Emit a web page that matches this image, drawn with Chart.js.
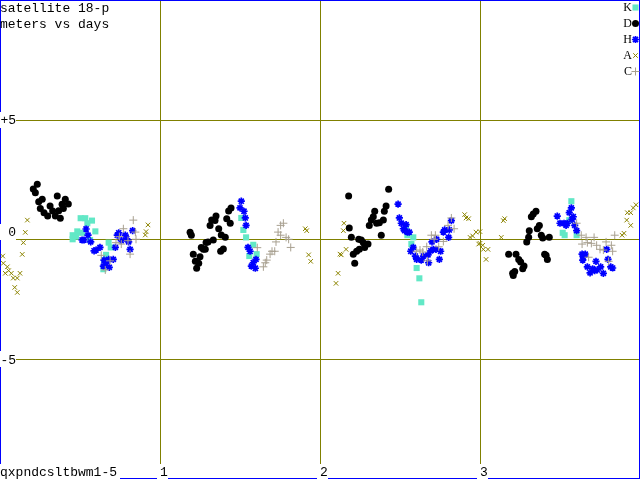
<!DOCTYPE html>
<html>
<head>
<meta charset="utf-8">
<script src="https://cdn.jsdelivr.net/npm/chart.js@4.4.1/dist/chart.umd.min.js"></script>
<style>
  html, body { margin: 0; padding: 0; background: #fff; }
  canvas { display: block; }
</style>
</head>
<body>
<canvas id="chart" width="640" height="480"></canvas>
<script>
// satellite 18-p : meters vs days

const TITLE_LINES  = ['satellite 18-p', 'meters vs days'];
const X_LABEL      = 'qxpndcsltbwm1-5';
const X_TICKS      = [1, 2, 3];
const Y_TICKS      = [5, 0, -5];
const Y_TICK_TEXT  = ['+5', '0', '-5'];

// K — squares
const kDays   = [0.504, 0.533, 0.575, 0.546, 0.483, 0.513, 0.596, 0.454, 0.454, 0.475, 0.563, 0.679, 0.692, 0.663, 0.650, 0.646,
                 1.508, 1.521, 1.538, 1.583, 1.604, 1.558,
                 2.538, 2.546, 2.583, 2.571, 2.604, 2.621, 2.633,
                 3.571, 3.558, 3.517, 3.529, 3.604];
const kMeters = [0.89, 0.89, 0.79, 0.68, 0.34, 0.28, 0.34, 0.18, 0.01, 0.12, -0.02, -0.13, -0.33, -0.64, -0.86, -1.24,
                 0.90, 0.40, 0.09, -0.22, -0.61, -0.69,
                 0.48, 0.18, 0.09, -0.19, -1.19, -1.62, -2.62,
                 1.60, 0.81, 0.28, 0.18, 0.18];

// D — dots
const dDays   = [0.233, 0.208, 0.221, 0.264, 0.242, 0.358, 0.408, 0.427, 0.388, 0.313, 0.252, 0.396, 0.329, 0.367, 0.275, 0.298, 0.346, 0.377,
                 1.444, 1.429, 1.350, 1.323, 1.344, 1.313, 1.417, 1.439, 1.367, 1.188, 1.196, 1.383, 1.408, 1.333, 1.300, 1.288, 1.258, 1.271, 1.283, 1.208, 1.396, 1.379, 1.250, 1.221, 1.242, 1.229,
                 2.429, 2.179, 2.413, 2.342, 2.402, 2.333, 2.321, 2.396, 2.354, 2.371, 2.308, 2.183, 2.383, 2.196, 2.242, 2.258, 2.271, 2.300, 2.283, 2.279, 2.246, 2.229, 2.208, 2.217,
                 3.350, 3.333, 3.321, 3.371, 3.358, 3.308, 3.383, 3.392, 3.433, 3.304, 3.292, 3.179, 3.225, 3.404, 3.413, 3.421, 3.242, 3.254, 3.275, 3.267, 3.217, 3.204, 3.208];
const dMeters = [2.31, 2.11, 1.95, 1.68, 1.58, 1.82, 1.68, 1.48, 1.47, 1.40, 1.30, 1.30, 1.19, 1.20, 1.12, 0.98, 0.98, 0.89,
                 1.32, 1.19, 0.98, 0.81, 0.79, 0.59, 0.87, 0.68, 0.45, 0.30, 0.18, 0.19, 0.09, -0.02, -0.10, -0.12, -0.33, -0.41, -0.41, -0.62, -0.40, -0.49, -0.72, -0.91, -0.99, -1.20,
                 2.10, 1.82, 1.40, 1.18, 1.18, 0.95, 0.81, 0.81, 0.68, 0.70, 0.59, 0.48, 0.18, 0.09, 0.01, -0.02, -0.13, -0.19, -0.22, -0.33, -0.41, -0.49, -0.61, -0.99,
                 1.18, 1.07, 0.95, 0.59, 0.45, 0.37, 0.18, 0.06, 0.09, 0.09, -0.10, -0.61, -0.61, -0.61, -0.66, -0.83, -0.83, -0.94, -1.11, -1.22, -1.33, -1.41, -1.50];

// H — asterisks
const hDays   = [0.538, 0.550, 0.513, 0.525, 0.567, 0.625, 0.600, 0.588, 0.650, 0.679, 0.708, 0.663, 0.646, 0.683, 0.742, 0.733, 0.783, 0.829, 0.792, 0.758, 0.721, 0.813, 0.804,
                 1.508, 1.500, 1.525, 1.533, 1.538, 1.550, 1.563, 1.600, 1.583, 1.571, 1.596,
                 2.488, 2.496, 2.508, 2.538, 2.521, 2.529, 2.546, 2.558, 2.583, 2.567, 2.596, 2.604, 2.633, 2.646, 2.675, 2.679, 2.692, 2.708, 2.725, 2.754, 2.746, 2.700, 2.729, 2.771, 2.779, 2.808, 2.821, 2.804,
                 3.571, 3.558, 3.483, 3.583, 3.575, 3.500, 3.525, 3.546, 3.592, 3.604, 3.538, 3.792, 3.638, 3.658, 3.646, 3.642, 3.725, 3.800, 3.671, 3.704, 3.754, 3.733, 3.817, 3.688, 3.717, 3.771, 3.829];
const hMeters = [0.44, 0.18, -0.02, -0.02, -0.10, -0.33, -0.44, -0.47, -0.86, -0.83, -0.83, -0.99, -1.11, -1.16, 0.28, 0.18, 0.18, 0.37, 0.03, -0.05, -0.33, -0.41, -0.10,
                 1.60, 1.32, 1.18, 0.90, 0.59, -0.33, -0.49, -0.83, -0.97, -1.11, -1.20,
                 1.48, 0.90, 0.68, 0.62, 0.45, 0.37, 0.31, 0.31, -0.33, -0.49, -0.69, -0.83, -0.86, -0.69, -0.64, -0.97, -0.47, -0.41, -0.41, -0.49, -0.83, -0.10, 0.01, 0.31, 0.40, 0.40, 0.79, 0.09,
                 1.32, 1.12, 0.98, 0.95, 0.84, 0.68, 0.68, 0.68, 0.59, 0.37, 0.59, -0.41, -0.61, -0.61, -0.74, -0.86, -0.91, -0.83, -1.14, -1.22, -1.14, -1.27, -1.14, -1.39, -1.30, -1.41, -1.19];

// A — crosses
const aDays   = [0.171, 0.158, 0.146, 0.139, 0.017, 0.021, 0.046, 0.054, 0.033, 0.071, 0.083, 0.108, 0.125, 0.092, 0.108, 0.925, 0.913, 0.908,
                 1.908, 1.917, 1.929, 1.942,
                 2.150, 2.146, 2.163, 2.125, 2.133, 2.113, 2.100, 2.904, 2.913, 2.929, 2.975, 2.954, 2.938, 2.992,
                 3.000, 3.154, 3.146, 3.133, 3.000, 3.017, 3.021, 3.050, 3.038, 3.975, 3.958, 3.942, 3.921, 3.917, 3.942, 3.900, 3.888];
const aMeters = [0.81, 0.30, -0.13, -0.62, -0.69, -0.99, -1.14, -1.30, -1.41, -1.41, -1.61, -1.61, -1.41, -2.00, -2.21, 0.61, 0.33, 0.19,
                 0.45, 0.37, -0.64, -0.91,
                 0.68, 0.37, -0.41, -0.61, -0.64, -1.41, -1.83, 1.04, 0.90, 0.87, 0.31, 0.15, 0.09, -0.19,
                 0.33, 0.87, 0.79, 0.09, -0.16, -0.24, -0.41, -0.41, -0.83, 1.45, 1.32, 1.12, 1.12, 0.81, 0.59, 0.26, 0.18];

// C — plus signs
const cDays   = [0.833, 0.771, 0.846, 0.746, 0.758, 0.800, 0.850, 0.813, 0.725, 0.688, 0.633, 0.658,
                 1.771, 1.754, 1.738, 1.754, 1.788, 1.804, 1.725, 1.817, 1.717, 1.700, 1.688, 1.667, 1.658, 1.646, 1.608,
                 2.696, 2.721, 2.713, 2.771, 2.800, 2.821, 2.838, 2.742, 2.625, 2.642, 2.667, 2.671, 2.604,
                 3.604, 3.633, 3.663, 3.713, 3.842, 3.638, 3.671, 3.696, 3.729, 3.788, 3.821, 3.750, 3.829, 3.771, 3.679, 3.804];
const cMeters = [0.81, 0.45, 0.31, 0.12, -0.19, -0.05, 0.01, -0.61, -0.13, -0.89, -0.66, -1.27,
                 0.68, 0.59, 0.31, 0.18, 0.09, 0.01, -0.10, -0.33, -0.49, -0.49, -0.61, -0.86, -0.97, -1.14, -0.34,
                 0.18, 0.18, 0.01, -0.08, 0.59, 0.90, 0.45, -0.30, -0.44, -0.52, -0.30, -0.89, -0.49,
                 0.68, 0.18, 0.09, 0.09, 0.18, -0.19, -0.13, -0.16, -0.24, -0.10, -0.24, -0.41, -0.49, -0.44, -0.74, -0.91];

const SERIES = [
  { name: 'K', days: kDays, meters: kMeters, style: 'rect',     color: '#62e8c6', radius: 4.3, border: 0   },
  { name: 'D', days: dDays, meters: dMeters, style: 'circle',   color: '#000000', radius: 3.5, border: 0   },
  { name: 'H', days: hDays, meters: hMeters, style: 'star',     color: '#0000ff', radius: 3.6, border: 1.7 },
  { name: 'A', days: aDays, meters: aMeters, style: 'crossRot', color: '#8c8400', radius: 3.2, border: 1   },
  { name: 'C', days: cDays, meters: cMeters, style: 'cross',    color: '#a8a090', radius: 4,   border: 1   },
];

const OLIVE = '#808000';
const BLUE  = '#0000ff';
const MONO  = '13px "Liberation Mono", "Courier New", monospace';
const SERIF = '12px "Liberation Serif", "Times New Roman", serif';

const zip = (xs, ys) => xs.map((x, i) => ({ x, y: ys[i] }));

// ── Frame, grid, labels, legend ────────────────────────────────

function markAt(ctx, s, x, y) {
  ctx.save();
  ctx.fillStyle = s.color;
  ctx.strokeStyle = s.color;
  ctx.lineWidth = s.border || 1;
  Chart.helpers.drawPoint(ctx, { pointStyle: s.style, radius: s.radius, borderWidth: s.border, rotation: 0 }, x, y);
  ctx.restore();
}

const framePlugin = {
  id: 'frame',
  beforeDatasetsDraw(chart) {
    const { ctx, scales: { x, y } } = chart;
    ctx.save();
    ctx.fillStyle = OLIVE;
    X_TICKS.forEach(v => ctx.fillRect(Math.round(x.getPixelForValue(v)), 0, 1, 464));
    Y_TICKS.forEach(v => ctx.fillRect(0, Math.round(y.getPixelForValue(v) - 0.25), 640, 1));
    ctx.strokeStyle = BLUE;
    ctx.lineWidth = 1;
    ctx.strokeRect(0.5, 0.5, 639, 478);
    ctx.restore();
  },
  afterDatasetsDraw(chart) {
    const { ctx, scales: { x, y } } = chart;
    ctx.save();
    ctx.font = MONO;
    ctx.textBaseline = 'alphabetic';

    // y tick labels
    const yBase = [124, 236, 364];
    Y_TICKS.forEach((v, i) => {
      const p = Math.round(y.getPixelForValue(v) - 0.25);
      ctx.fillStyle = '#fff';
      ctx.fillRect(0, p - 15 + (v === 0 ? 0 : 7), 16, 16);
      ctx.fillStyle = '#000';
      ctx.textAlign = 'right';
      ctx.fillText(Y_TICK_TEXT[i], 16, yBase[i]);
    });

    // x tick labels
    X_TICKS.forEach(v => {
      const p = Math.round(x.getPixelForValue(v));
      ctx.fillStyle = '#fff';
      ctx.fillRect(p - 3, 464, 11, 16);
      ctx.fillStyle = '#000';
      ctx.textAlign = 'left';
      ctx.fillText(String(v), p, 476);
    });

    // axis name, bottom left
    ctx.fillStyle = '#fff';
    ctx.fillRect(0, 464, 120, 16);
    ctx.fillStyle = '#000';
    ctx.textAlign = 'left';
    ctx.fillText(X_LABEL, 0, 476);

    // title, top left
    TITLE_LINES.forEach((t, i) => ctx.fillText(t, 0, 12 + i * 16));

    // legend, top right
    ctx.font = SERIF;
    ctx.textAlign = 'right';
    SERIES.forEach((s, i) => {
      ctx.fillStyle = '#000';
      ctx.fillText(s.name, 632, 11 + i * 16);
      markAt(ctx, s, 635.5, 7.5 + i * 16);
    });
    ctx.restore();
  },
};

// ── Chart ──────────────────────────────────────────────────────

new Chart(document.getElementById('chart'), {
  type: 'scatter',
  data: {
    datasets: SERIES.map((s, i) => ({
      label: s.name,
      data: zip(s.days, s.meters),
      pointStyle: s.style,
      pointRadius: s.radius,
      pointBorderWidth: s.border,
      pointBackgroundColor: s.color,
      pointBorderColor: s.color,
      showLine: false,
      order: SERIES.length - i,
    })),
  },
  options: {
    responsive: false,
    animation: false,
    events: [],
    layout: { padding: 0, autoPadding: false },
    plugins: { legend: { display: false }, tooltip: { enabled: false } },
    scales: {
      x: { type: 'linear', display: false, min: 0, max: 4 },
      y: { type: 'linear', display: false, min: -10.04, max: 10 },
    },
  },
  plugins: [framePlugin],
});
</script>
</body>
</html>
